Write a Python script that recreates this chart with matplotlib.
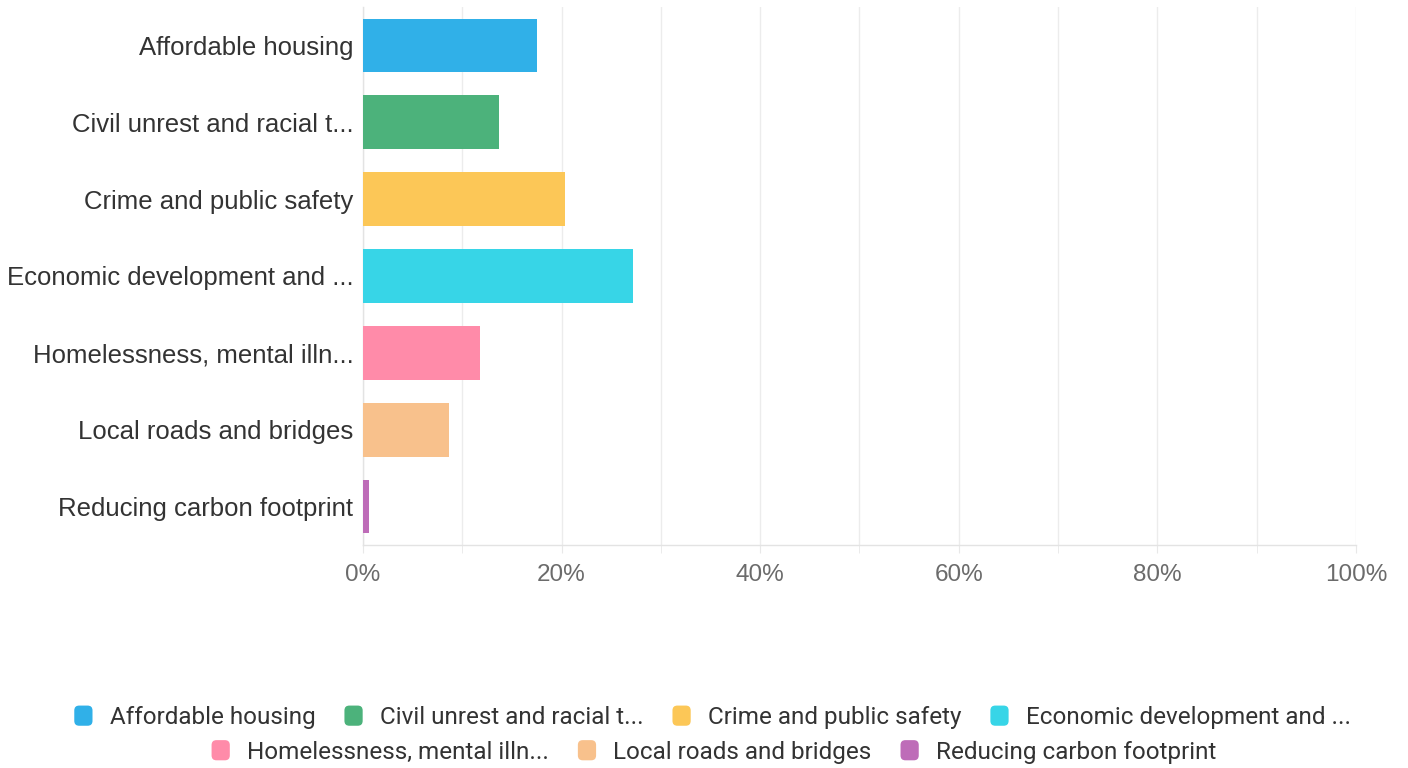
import matplotlib.pyplot as plt
from matplotlib.patches import Patch, FancyBboxPatch
from matplotlib.legend_handler import HandlerPatch
from matplotlib.ticker import MultipleLocator, FuncFormatter

# Categories (as truncated in the chart) and share of responses in %
labels = [
    'Affordable housing',
    'Civil unrest and racial t...',
    'Crime and public safety',
    'Economic development and ...',
    'Homelessness, mental illn...',
    'Local roads and bridges',
    'Reducing carbon footprint',
]
values = [17.5, 13.7, 20.3, 27.2, 11.8, 8.7, 0.6]
colors = ['#30B0E8', '#4CB27B', '#FCC757', '#37D5E7', '#FF8BA9', '#F8C18C', '#BE6CB8']

fig = plt.figure(figsize=(14.08, 7.68), dpi=100)
ax = fig.add_axes([0.2578, 0.2904, 0.7052, 0.7005])

ypos = list(range(len(labels)))
ax.barh(ypos, values, height=0.7, color=colors, zorder=3)

ax.set_xlim(0, 100)
ax.set_ylim(len(labels) - 0.5, -0.5)
ax.set_yticks(ypos)
ax.set_yticklabels(labels, fontsize=18.5, color='#333333', family='Liberation Sans')
ax.tick_params(axis='y', length=0, pad=7)

ax.xaxis.set_major_locator(MultipleLocator(20))
ax.xaxis.set_minor_locator(MultipleLocator(10))
ax.xaxis.set_major_formatter(FuncFormatter(lambda x, p: f'{int(x)}%'))
ax.tick_params(axis='x', which='both', length=6, color='#e8e8e8', labelsize=17.5,
               labelcolor='#6b6b6b', pad=8)
for t in ax.get_xticklabels():
    t.set_family('Liberation Sans')
ax.grid(True, axis='x', which='both', color='#ececec', linewidth=1, zorder=0)

for s in ['top', 'right']:
    ax.spines[s].set_visible(False)
for s in ['left', 'bottom']:
    ax.spines[s].set_color('#e3e3e3')
    ax.spines[s].set_linewidth(1)


def rounded_box(legend, orig_handle, xdescent, ydescent, width, height, fontsize):
    return FancyBboxPatch((-xdescent, -ydescent), width, height,
                          boxstyle='round,pad=0,rounding_size=3.5')


handles = [Patch(facecolor=c, edgecolor='none', label=l) for c, l in zip(colors, labels)]
hmap = {Patch: HandlerPatch(patch_func=rounded_box)}
leg_kw = dict(frameon=False, handlelength=0.75, handleheight=0.9, handletextpad=0.7,
              columnspacing=1.2, borderaxespad=0, borderpad=0, handler_map=hmap,
              prop={'family': 'Roboto', 'size': 17.5}, labelcolor='#333333')

leg1 = fig.legend(handles[:4], labels[:4], ncol=4, loc='center',
                  bbox_to_anchor=(0.506, 0.066), **leg_kw)
leg2 = fig.legend(handles[4:], labels[4:], ncol=3, loc='center',
                  bbox_to_anchor=(0.507, 0.021), **leg_kw)

fig.savefig('out.png', dpi=100)
